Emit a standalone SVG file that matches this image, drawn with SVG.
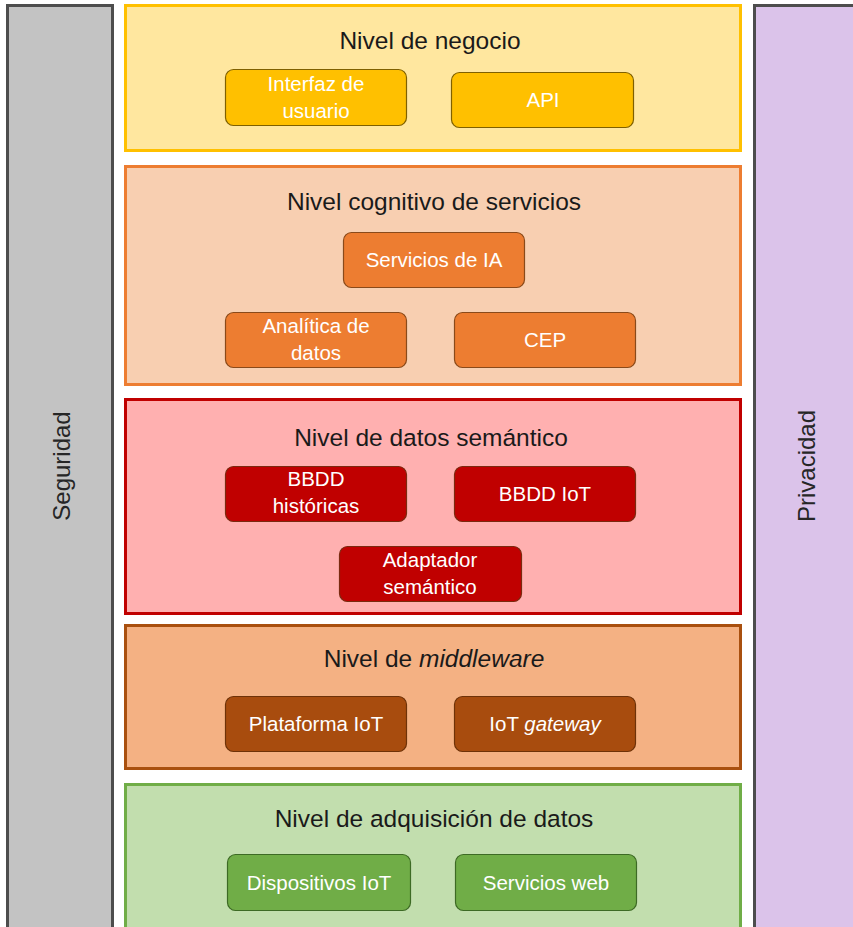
<svg xmlns="http://www.w3.org/2000/svg" width="853" height="927" viewBox="0 0 853 927">
  <style>
    text { font-family: "Liberation Sans", "DejaVu Sans", sans-serif; }
    .title { font-size: 24.5px; fill: #1a1a1a; text-anchor: middle; }
    .side { font-size: 24px; fill: #262626; text-anchor: middle; }
    .lbl { font-size: 20.5px; fill: #ffffff; text-anchor: middle; }
    .bar { stroke: #4d4d4d; stroke-width: 3; }
    .layer { stroke-width: 3; }
    .box { stroke-width: 1.2; }
  </style>

  <!-- Cross-cutting bars -->
  <g id="seguridad">
    <rect class="bar" x="7.5" y="5.5" width="105" height="930" fill="#c3c3c3"/>
    <text class="side" transform="translate(70 466) rotate(-90)">Seguridad</text>
  </g>
  <g id="privacidad">
    <rect class="bar" x="754.5" y="5.5" width="110" height="930" fill="#dbc3ea"/>
    <text class="side" transform="translate(815 466) rotate(-90)">Privacidad</text>
  </g>

  <!-- Business layer -->
  <g id="nivel-negocio">
    <rect class="layer" x="125.5" y="5.5" width="615" height="145" fill="#ffe79f" stroke="#ffc000"/>
    <text class="title" x="430" y="49">Nivel de negocio</text>
  </g>
  <g id="interfaz-usuario">
    <rect class="box" x="225.5" y="69.5" width="181" height="56" rx="8" fill="#ffc000" stroke="#7f6000"/>
    <text class="lbl" x="316" y="91">Interfaz de</text>
    <text class="lbl" x="316" y="118">usuario</text>
  </g>
  <g id="api">
    <rect class="box" x="451.5" y="72.5" width="182" height="55" rx="8" fill="#ffc000" stroke="#7f6000"/>
    <text class="lbl" x="543" y="107">API</text>
  </g>

  <!-- Cognitive services layer -->
  <g id="nivel-cognitivo">
    <rect class="layer" x="125.5" y="166.5" width="615" height="218" fill="#f8cfb1" stroke="#ed7d31"/>
    <text class="title" x="434" y="210">Nivel cognitivo de servicios</text>
  </g>
  <g id="servicios-ia">
    <rect class="box" x="343.5" y="232.5" width="181" height="55" rx="8" fill="#ed7d31" stroke="#8a4a1a"/>
    <text class="lbl" x="434" y="267">Servicios de IA</text>
  </g>
  <g id="analitica">
    <rect class="box" x="225.5" y="312.5" width="181" height="55" rx="8" fill="#ed7d31" stroke="#8a4a1a"/>
    <text class="lbl" x="316" y="333">Analítica de</text>
    <text class="lbl" x="316" y="360">datos</text>
  </g>
  <g id="cep">
    <rect class="box" x="454.5" y="312.5" width="181" height="55" rx="8" fill="#ed7d31" stroke="#8a4a1a"/>
    <text class="lbl" x="545" y="347">CEP</text>
  </g>

  <!-- Semantic data layer -->
  <g id="nivel-datos">
    <rect class="layer" x="125.5" y="399.5" width="615" height="214" fill="#ffb0b0" stroke="#c00000"/>
    <text class="title" x="431" y="446">Nivel de datos semántico</text>
  </g>
  <g id="bbdd-historicas">
    <rect class="box" x="225.5" y="466.5" width="181" height="55" rx="8" fill="#c00000" stroke="#7a2a10"/>
    <text class="lbl" x="316" y="486">BBDD</text>
    <text class="lbl" x="316" y="513">históricas</text>
  </g>
  <g id="bbdd-iot">
    <rect class="box" x="454.5" y="466.5" width="181" height="55" rx="8" fill="#c00000" stroke="#7a2a10"/>
    <text class="lbl" x="545" y="501">BBDD IoT</text>
  </g>
  <g id="adaptador">
    <rect class="box" x="339.5" y="546.5" width="182" height="55" rx="8" fill="#c00000" stroke="#7a2a10"/>
    <text class="lbl" x="430" y="567">Adaptador</text>
    <text class="lbl" x="430" y="594">semántico</text>
  </g>

  <!-- Middleware layer -->
  <g id="nivel-middleware">
    <rect class="layer" x="125.5" y="625.5" width="615" height="143" fill="#f4b183" stroke="#a9500f"/>
    <text class="title" x="434" y="667">Nivel de <tspan font-style="italic">middleware</tspan></text>
  </g>
  <g id="plataforma-iot">
    <rect class="box" x="225.5" y="696.5" width="181" height="55" rx="8" fill="#a84c0e" stroke="#6e3208"/>
    <text class="lbl" x="316" y="731">Plataforma IoT</text>
  </g>
  <g id="iot-gateway">
    <rect class="box" x="454.5" y="696.5" width="181" height="55" rx="8" fill="#a84c0e" stroke="#6e3208"/>
    <text class="lbl" x="545" y="731">IoT <tspan font-style="italic">gateway</tspan></text>
  </g>

  <!-- Data acquisition layer -->
  <g id="nivel-adquisicion">
    <rect class="layer" x="125.5" y="784.5" width="615" height="150" fill="#c2deae" stroke="#70ad47"/>
    <text class="title" x="434" y="827">Nivel de adquisición de datos</text>
  </g>
  <g id="dispositivos-iot">
    <rect class="box" x="227.5" y="854.5" width="183" height="56" rx="8" fill="#70ad47" stroke="#3d6a25"/>
    <text class="lbl" x="319" y="890">Dispositivos IoT</text>
  </g>
  <g id="servicios-web">
    <rect class="box" x="455.5" y="854.5" width="181" height="56" rx="8" fill="#70ad47" stroke="#3d6a25"/>
    <text class="lbl" x="546" y="890">Servicios web</text>
  </g>

  <!-- No connectors are drawn between layers -->
  <g id="connectors"/>
</svg>
